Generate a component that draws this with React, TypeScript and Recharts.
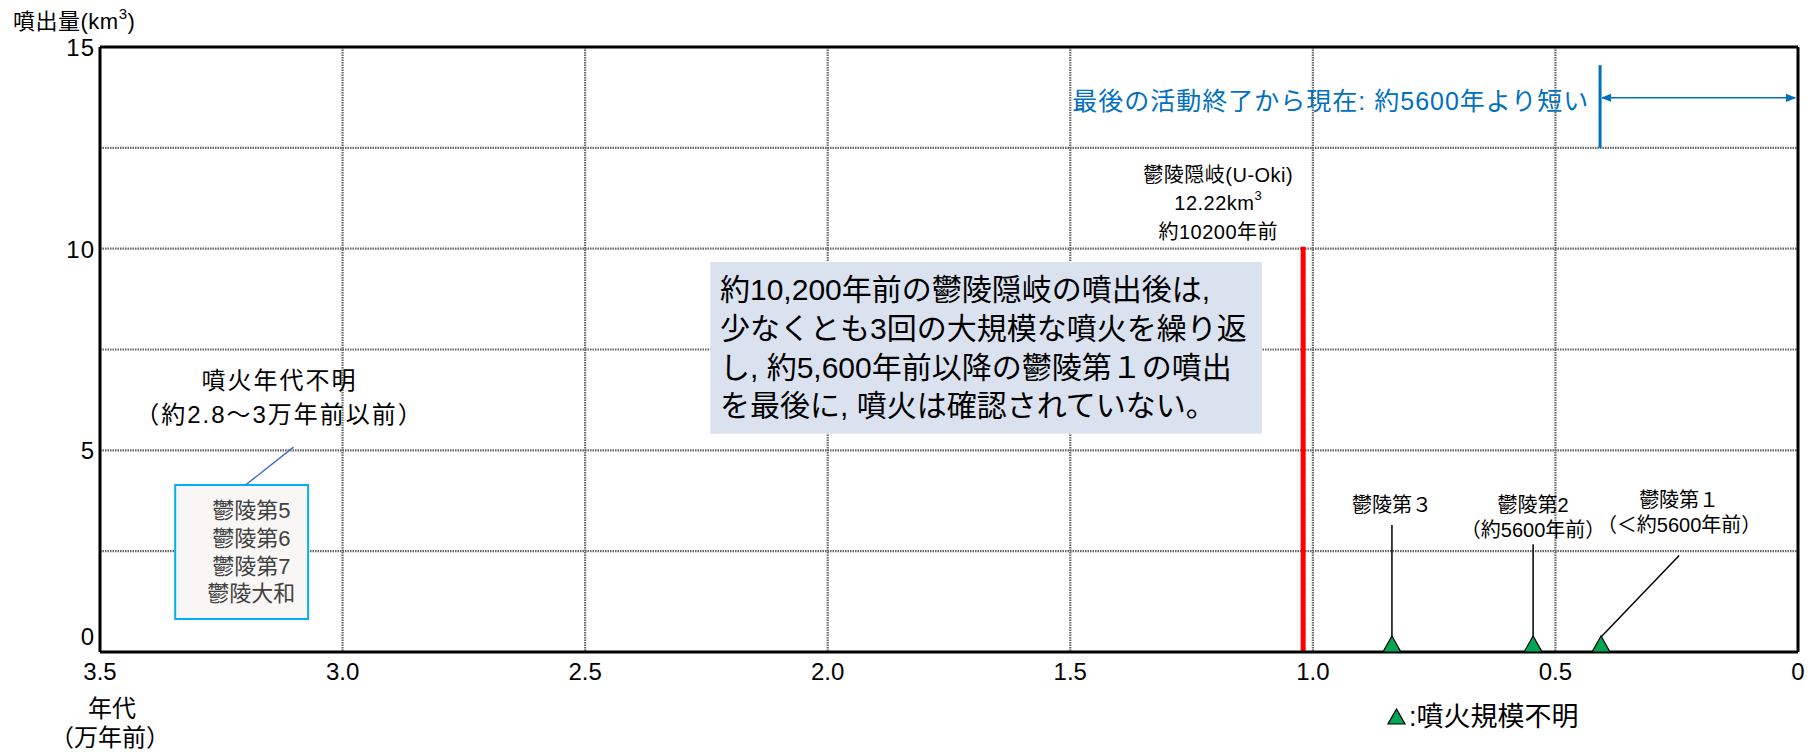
import React from 'react';
import {
  ComposedChart,
  XAxis,
  YAxis,
  CartesianGrid,
  Scatter,
  ReferenceLine,
  ReferenceArea,
  ReferenceDot,
} from 'recharts';

// ---- data ----
const xTicks = [0, 0.5, 1, 1.5, 2, 2.5, 3, 3.5]; // 万年前
const yTicks = [0, 2.5, 5, 7.5, 10, 12.5, 15]; // km3
const yLabelTicks = [0, 5, 10, 15];

// eruptions with unknown scale (green triangles)
const unknownNames = ['鬱陵第３', '鬱陵第2', '鬱陵第１'];
const unknownSub = ['', '（約5600年前）', '（＜約5600年前）'];
const unknownAges = [0.837, 0.546, 0.406];
const unknownLeaderTopAge = [0.837, 0.546, 0.245];
const unknownLeaderTopY = [3.15, 2.67, 2.39];
const unknownLabelY = [3.65, 3.65, 3.77];

// U-Oki eruption (drawn volume capped at the 10 km3 line)
const uOkiAge = 1.02;
const uOkiDrawn = 10.05;
const uOkiLabel = ['鬱陵隠岐(U-Oki)', '12.22km', '約10200年前'];

// undated eruptions
const undatedNames = ['鬱陵第5', '鬱陵第6', '鬱陵第7', '鬱陵大和'];
const undatedHeading = ['噴火年代不明', '（約2.8～3万年前以前）'];

const noteLines = [
  '約10,200年前の鬱陵隠岐の噴出後は,',
  '少なくとも3回の大規模な噴火を繰り返',
  'し, 約5,600年前以降の鬱陵第１の噴出',
  'を最後に, 噴火は確認されていない。',
];

const lastActivityAge = 0.408;
const lastActivityText = '最後の活動終了から現在: 約5600年より短い';

const triangleData = unknownAges.map((x, i) => ({ x, y: 0, name: unknownNames[i] }));

const FONT = '"Liberation Sans", "Noto Sans CJK JP", sans-serif';
const BLUE = '#0070c0';

const Triangle = (props: any) => {
  const { cx, cy } = props;
  if (cx == null || cy == null) return null;
  return (
    <polygon
      points={`${cx - 9},${cy} ${cx + 9},${cy} ${cx},${cy - 16}`}
      fill="#00a651"
      stroke="#000"
      strokeWidth={1.2}
    />
  );
};

const XTick = (props: any) => {
  const { x, y, payload } = props;
  const v = payload.value;
  const label = v === 0 ? '0' : v.toFixed(1);
  return (
    <text x={x} y={y + 28} textAnchor="middle" fontSize={24} fill="#000" fontFamily={FONT}>
      {label}
    </text>
  );
};

const YTick = (props: any) => {
  const { x, y, payload } = props;
  const v = payload.value;
  if (!yLabelTicks.includes(v)) return <g />;
  const dy = v === 0 ? -16 : 0;
  return (
    <text x={x} y={y + dy + 9} textAnchor="end" fontSize={24} letterSpacing={1} fill="#000" fontFamily={FONT}>
      {String(v)}
    </text>
  );
};

const textBlock =
  (
    lines: string[],
    opts: { size: number; gap: number; anchor?: string; fill?: string; sup?: number; ls?: number }
  ) =>
  (p: any) => {
    const { cx, cy } = p;
    if (cx == null || cy == null) return null;
    return (
      <g>
        {lines.map((l, i) => (
          <text
            key={i}
            x={cx}
            y={cy + i * opts.gap}
            dominantBaseline="central"
            textAnchor={(opts.anchor as any) || 'middle'}
            fontSize={opts.size}
            letterSpacing={opts.ls || 0}
            fill={opts.fill || '#000'}
            fontFamily={FONT}
          >
            {l}
            {opts.sup === i ? (
              <tspan fontSize={opts.size * 0.65} dy={-8}>
                3
              </tspan>
            ) : null}
          </text>
        ))}
      </g>
    );
  };

export default function App() {
  return (
    <div
      style={{
        position: 'absolute',
        left: 0,
        top: 0,
        width: 1820,
        height: 755,
        background: '#fff',
        fontFamily: FONT,
      }}
    >
      <ComposedChart
        width={1820}
        height={755}
        data={triangleData}
        margin={{ top: 47, right: 22, bottom: 73, left: 40 }}
        style={{ fontFamily: FONT }}
      >
        <defs>
          <marker id="arrowR" viewBox="0 0 10 10" refX="9" refY="5" markerWidth="7" markerHeight="7" orient="auto">
            <path d="M0,1 L10,5 L0,9 z" fill={BLUE} />
          </marker>
          <marker id="arrowL" viewBox="0 0 10 10" refX="1" refY="5" markerWidth="7" markerHeight="7" orient="auto">
            <path d="M10,1 L0,5 L10,9 z" fill={BLUE} />
          </marker>
        </defs>
        <CartesianGrid stroke="#666" strokeWidth={2.2} strokeDasharray="1.5 1" />
        <XAxis
          dataKey="x"
          type="number"
          domain={[0, 3.5]}
          reversed
          ticks={xTicks}
          interval={0}
          height={30}
          tickLine={false}
          tickSize={0}
          tickMargin={0}
          axisLine={{ stroke: '#000', strokeWidth: 3 }}
          tick={<XTick />}
          allowDataOverflow
        />
        <YAxis
          dataKey="y"
          type="number"
          domain={[0, 15]}
          ticks={yTicks}
          interval={0}
          width={60}
          tickLine={false}
          tickSize={0}
          tickMargin={5}
          axisLine={{ stroke: '#000', strokeWidth: 3 }}
          tick={<YTick />}
          allowDataOverflow
        />
        <ReferenceLine y={15} stroke="#000" strokeWidth={3} />
        <ReferenceLine x={0} stroke="#000" strokeWidth={3} />

        {/* note box */}
        <ReferenceArea x1={2.242} x2={1.105} y1={5.41} y2={9.67} fill="#dbe2ef" fillOpacity={1} stroke="none" />
        <ReferenceDot
          x={2.222}
          y={8.98}
          r={1}
          shape={textBlock(noteLines, { size: 30, gap: 38.7, anchor: 'start' })}
        />

        {/* undated box */}
        <ReferenceArea x1={3.345} x2={3.071} y1={0.82} y2={4.14} fill="#f8f7f5" fillOpacity={1} stroke="#00b0f0" strokeWidth={2} />
        <ReferenceDot
          x={3.188}
          y={3.5}
          r={1}
          shape={textBlock(undatedNames, { size: 22, gap: 27.7, fill: '#404040' })}
        />
        <ReferenceLine
          segment={[
            { x: 3.101, y: 5.08 },
            { x: 3.2, y: 4.14 },
          ]}
          stroke="#4472c4"
          strokeWidth={1.5}
        />
        <ReferenceDot x={3.13} y={6.74} r={1} shape={textBlock(undatedHeading, { size: 24, gap: 34, ls: 2 })} />

        {/* U-Oki */}
        <ReferenceLine
          segment={[
            { x: uOkiAge, y: 0 },
            { x: uOkiAge, y: uOkiDrawn },
          ]}
          stroke="#ff0000"
          strokeWidth={5}
        />
        <ReferenceDot x={1.195} y={11.83} r={1} shape={textBlock(uOkiLabel, { size: 20, gap: 28.5, sup: 1, ls: 0.5 })} />

        {/* last activity */}
        <ReferenceLine
          segment={[
            { x: lastActivityAge, y: 12.5 },
            { x: lastActivityAge, y: 14.55 },
          ]}
          stroke={BLUE}
          strokeWidth={3}
        />
        <ReferenceLine
          segment={[
            { x: lastActivityAge - 0.004, y: 13.74 },
            { x: 0.006, y: 13.74 },
          ]}
          stroke={BLUE}
          strokeWidth={1.5}
          markerStart="url(#arrowL)"
          markerEnd="url(#arrowR)"
        />
        <ReferenceDot
          x={0.43}
          y={13.65}
          r={1}
          shape={textBlock([lastActivityText], { size: 25, gap: 0, anchor: 'end', fill: BLUE, ls: 1 })}
        />

        {/* unknown-scale leaders and labels */}
        {unknownAges.map((a, i) => (
          <ReferenceLine
            key={'l' + i}
            segment={[
              { x: a, y: 0.37 },
              { x: unknownLeaderTopAge[i], y: unknownLeaderTopY[i] },
            ]}
            stroke="#000"
            strokeWidth={1.5}
          />
        ))}
        {unknownNames.map((n, i) => (
          <ReferenceDot
            key={'t' + i}
            x={unknownLeaderTopAge[i]}
            y={unknownLabelY[i]}
            r={1}
            shape={textBlock(unknownSub[i] ? [n, unknownSub[i]] : [n], { size: 20, gap: 25 })}
          />
        ))}

        <Scatter data={triangleData} dataKey="y" shape={<Triangle />} isAnimationActive={false} />
      </ComposedChart>

      <svg
        width={1820}
        height={755}
        style={{ position: 'absolute', left: 0, top: 0, pointerEvents: 'none' }}
      >
        <text x={13} y={21} dominantBaseline="central" fontSize={22} letterSpacing={0.5} fill="#000" fontFamily={FONT}>
          噴出量(km
          <tspan fontSize={15} dy={-8}>
            3
          </tspan>
          <tspan dy={8}>)</tspan>
        </text>
        <text x={112} y={708} dominantBaseline="central" textAnchor="middle" fontSize={24} fill="#000" fontFamily={FONT}>
          年代
        </text>
        <text x={110} y={737} dominantBaseline="central" textAnchor="middle" fontSize={24} fill="#000" fontFamily={FONT}>
          （万年前）
        </text>
        <polygon points="1388,724 1405,724 1396.5,709" fill="#00a651" stroke="#000" strokeWidth={1.2} />
        <text x={1409} y={717} dominantBaseline="central" fontSize={27} fill="#000" fontFamily={FONT}>
          :噴火規模不明
        </text>
      </svg>
    </div>
  );
}
